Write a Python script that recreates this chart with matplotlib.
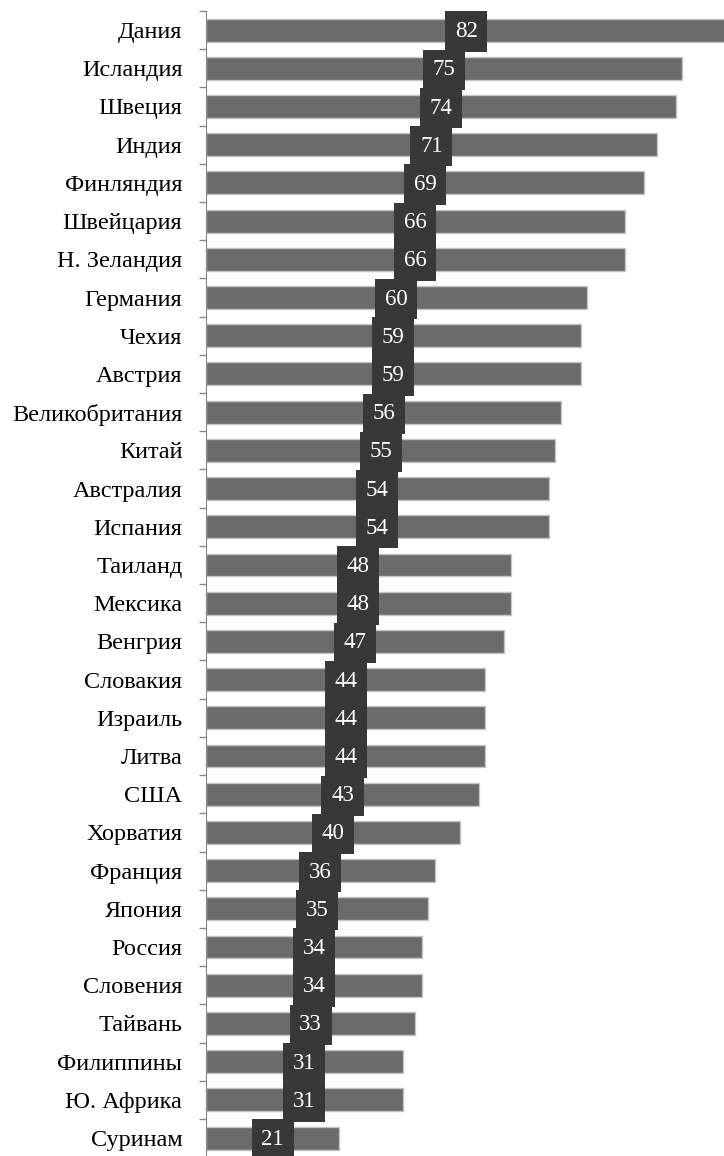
import matplotlib.pyplot as plt

countries = ['Дания', 'Исландия', 'Швеция', 'Индия', 'Финляндия', 'Швейцария',
             'Н. Зеландия', 'Германия', 'Чехия', 'Австрия', 'Великобритания',
             'Китай', 'Австралия', 'Испания', 'Таиланд', 'Мексика', 'Венгрия',
             'Словакия', 'Израиль', 'Литва', 'США', 'Хорватия', 'Франция',
             'Япония', 'Россия', 'Словения', 'Тайвань', 'Филиппины',
             'Ю. Африка', 'Суринам']
values = [82, 75, 74, 71, 69, 66, 66, 60, 59, 59, 56, 55, 54, 54, 48, 48, 47,
          44, 44, 44, 43, 40, 36, 35, 34, 34, 33, 31, 31, 21]

plt.rcParams['font.family'] = ['Liberation Serif', 'DejaVu Serif']

fig = plt.figure(figsize=(7.24, 11.56), dpi=100)
ax = fig.add_axes([0.2845, -0.001, 0.7155, 0.9915])

y = list(range(len(countries)))
ax.barh(y, values, height=0.6, color='#6b6b6b', edgecolor='#c4c4c4', linewidth=1)

# value labels in dark boxes, centred on the middle of each bar
for yi, v in zip(y, values):
    ax.text(v / 2, yi + 0.04, str(v), ha='center', va='center', color='white',
            fontsize=16.5, linespacing=1.3,
            bbox=dict(boxstyle='square,pad=0.42', facecolor='#383838', edgecolor='none'))

ax.set_xlim(0, 81.6)
ax.set_ylim(len(countries) - 0.5, -0.5)
ax.set_yticks(y)
ax.set_yticklabels(countries, fontsize=17.5)
ax.tick_params(axis='y', which='major', length=0, pad=17)
ax.set_yticks([i - 0.5 for i in range(len(countries) + 1)], minor=True)
ax.tick_params(axis='y', which='minor', length=5, color='#888888', width=1)
ax.set_xticks([])
for s in ['top', 'right', 'bottom']:
    ax.spines[s].set_visible(False)
ax.spines['left'].set_color('#888888')

fig.savefig('out.png', dpi=100)
